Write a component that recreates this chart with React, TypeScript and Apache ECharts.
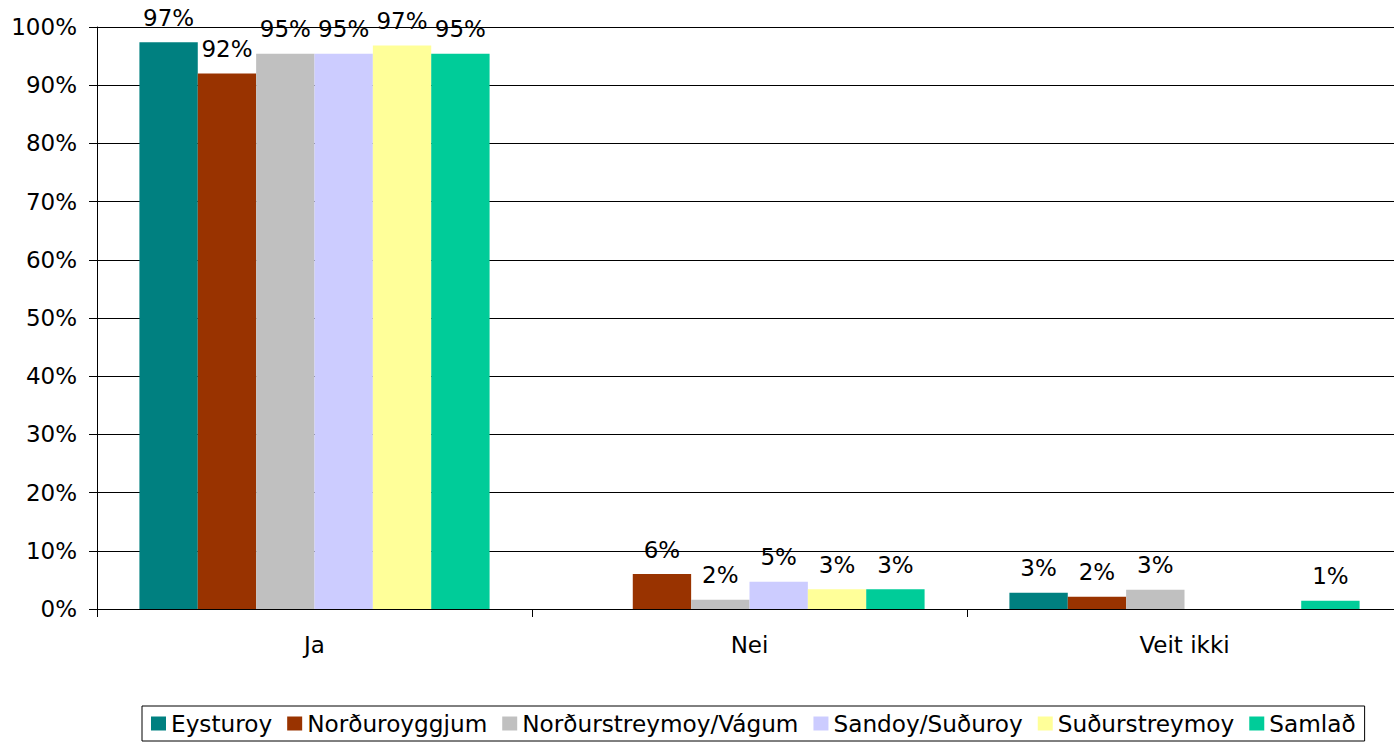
import React, { useEffect, useRef } from "react";
import * as echarts from "echarts";

const categories = ["Ja", "Nei", "Veit ikki"];
const seriesNames = ["Eysturoy", "Norðuroyggjum", "Norðurstreymoy/Vágum", "Sandoy/Suðuroy", "Suðurstreymoy", "Samlað"];
const seriesColors = ["#008080", "#993300", "#C0C0C0", "#CCCCFF", "#FFFF99", "#00CC99"];
const eysturoy = [97.4, 0, 2.8];
const nordoyggjum = [92.0, 6.0, 2.1];
const nordstreymoy = [95.4, 1.6, 3.3];
const sandoy = [95.4, 4.7, 0];
const sudstreymoy = [96.8, 3.4, 0];
const samlad = [95.4, 3.4, 1.4];
const seriesValues = [eysturoy, nordoyggjum, nordstreymoy, sandoy, sudstreymoy, samlad];

const FONT = "DejaVu Sans, Verdana, sans-serif";

export default function App() {
  const ref = useRef<HTMLDivElement>(null);
  useEffect(() => {
    if (!ref.current) return;
    const chart = echarts.init(ref.current, null, { renderer: "svg" });
    chart.setOption({
      animation: false,
      textStyle: { fontFamily: FONT, color: "#000" },
      grid: { left: 97, right: 8, top: 27, bottom: 135 },
      legend: {
        left: 142,
        top: 706,
        icon: "rect",
        itemWidth: 15,
        itemHeight: 14,
        itemGap: 15,
        padding: [6, 9, 6, 9],
        borderColor: "#000",
        borderWidth: 1,
        textStyle: { fontSize: 23.2, fontFamily: FONT, color: "#000" },
        data: seriesNames,
      },
      xAxis: {
        type: "category",
        data: categories,
        axisLine: { lineStyle: { color: "#000", width: 1 } },
        axisTick: { show: true, length: 8, lineStyle: { color: "#000" } },
        axisLabel: { fontSize: 23, color: "#000", fontFamily: FONT, margin: 24 },
      },
      yAxis: {
        type: "value",
        min: 0,
        max: 100,
        interval: 10,
        axisLine: { show: true, lineStyle: { color: "#000", width: 1 } },
        axisTick: { show: true, length: 8, lineStyle: { color: "#000" } },
        axisLabel: { fontSize: 23, color: "#000", fontFamily: FONT, margin: 20, formatter: "{value}%" },
        splitLine: { show: true, lineStyle: { color: "#000", width: 1 } },
      },
      series: seriesNames.map((name, i) => ({
        name,
        type: "bar",
        data: seriesValues[i],
        barGap: "0%",
        barCategoryGap: "19.5%",
        itemStyle: { color: seriesColors[i] },
        label: {
          show: true,
          position: "top",
          distance: 13,
          fontSize: 23,
          fontFamily: FONT,
          color: "#000",
          formatter: (p: any) => (p.value ? Math.round(p.value) + "%" : ""),
        },
      })),
    });
    return () => chart.dispose();
  }, []);
  return (
    <div
      ref={ref}
      style={{ position: "fixed", left: 0, top: 0, width: 1410, height: 744, background: "#fff" }}
    />
  );
}
